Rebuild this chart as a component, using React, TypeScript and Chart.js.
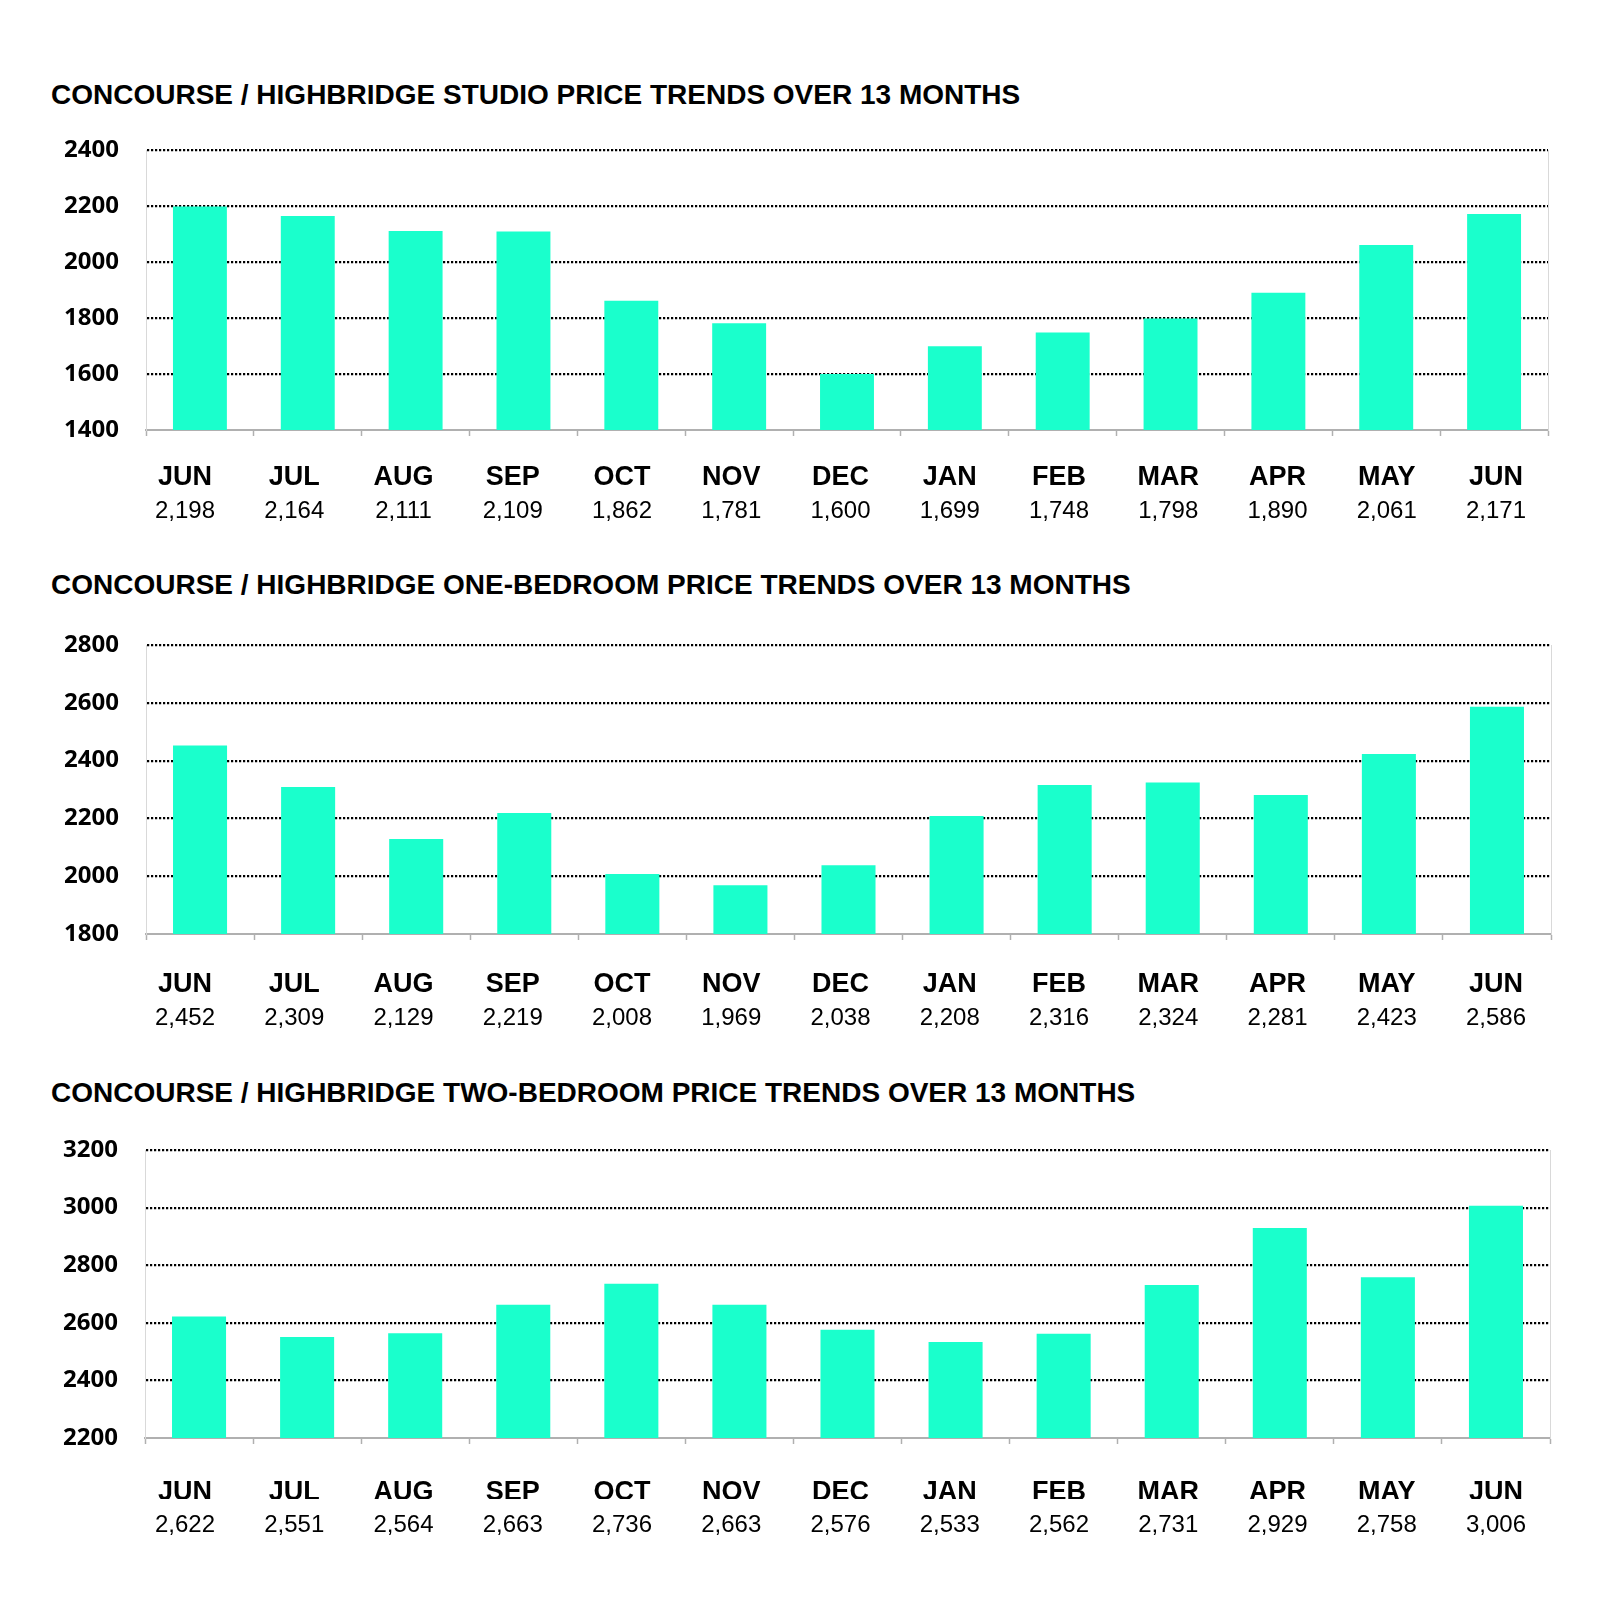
import React, { useEffect, useRef } from "react";
import { Chart, registerables } from "chart.js";

Chart.register(...registerables);

// ---------- data ----------
const MONTHS = ["JUN", "JUL", "AUG", "SEP", "OCT", "NOV", "DEC", "JAN", "FEB", "MAR", "APR", "MAY", "JUN"];

const STUDIO_VALUES = [2198, 2164, 2111, 2109, 1862, 1781, 1600, 1699, 1748, 1798, 1890, 2061, 2171];
const ONE_BED_VALUES = [2452, 2309, 2129, 2219, 2008, 1969, 2038, 2208, 2316, 2324, 2281, 2423, 2586];
const TWO_BED_VALUES = [2622, 2551, 2564, 2663, 2736, 2663, 2576, 2533, 2562, 2731, 2929, 2758, 3006];

const STUDIO_RANGE = [1400, 2400];
const ONE_BED_RANGE = [1800, 2800];
const TWO_BED_RANGE = [2200, 3200];
const Y_STEP = 200;

const TITLES = [
  "CONCOURSE / HIGHBRIDGE STUDIO PRICE TRENDS OVER 13 MONTHS",
  "CONCOURSE / HIGHBRIDGE ONE-BEDROOM PRICE TRENDS OVER 13 MONTHS",
  "CONCOURSE / HIGHBRIDGE TWO-BEDROOM PRICE TRENDS OVER 13 MONTHS",
];

// ---------- styles / layout ----------
const BAR_COLOR = "#1AFFCC";
const GRID_COLOR = "#000000";
const AXIS_COLOR = "#b0b0b0";
const FRAME_COLOR = "#d9d9d9";
const ARIAL = '"Liberation Sans", Arial, Helvetica, sans-serif';
const TOP_PAD = 20;
const TICK_LEN = 6;
const MONTH_AXIS_H = 55;
const VALUE_AXIS_H = 45;
// month/value label columns (pixel centre of first column, column step)
const LABEL_FIRST_PX = 185;
const LABEL_STEP_PX = 109.25;

type Panel = {
  title: string;
  values: number[];
  range: number[];
  titleCenter: number;
  plotTop: number;
  plotBottom: number;
  left: number;
  right: number;
  monthOffset: number;
  valueOffset: number;
};

const PANELS: Panel[] = [
  { title: TITLES[0], values: STUDIO_VALUES, range: STUDIO_RANGE, titleCenter: 95, plotTop: 150, plotBottom: 430, left: 146, right: 1548, monthOffset: 48, valueOffset: 81 },
  { title: TITLES[1], values: ONE_BED_VALUES, range: ONE_BED_RANGE, titleCenter: 585, plotTop: 645, plotBottom: 934, left: 146, right: 1551, monthOffset: 51, valueOffset: 84 },
  { title: TITLES[2], values: TWO_BED_VALUES, range: TWO_BED_RANGE, titleCenter: 1093, plotTop: 1150, plotBottom: 1438, left: 145, right: 1550, monthOffset: 55, valueOffset: 87 },
];

const noPadH = (s: any) => {
  s.paddingLeft = 0;
  s.paddingRight = 0;
};

function BarPanel({ p }: { p: Panel }) {
  const ref = useRef<HTMLCanvasElement>(null);
  const height = TOP_PAD + (p.plotBottom - p.plotTop) + TICK_LEN + MONTH_AXIS_H + VALUE_AXIS_H;

  useEffect(() => {
    const canvas = ref.current;
    if (!canvas) return;
    const [yMin, yMax] = p.range;
    const valueLabels = p.values.map((v) => v.toLocaleString("en-US"));
    const labelMin = (p.left - LABEL_FIRST_PX) / LABEL_STEP_PX;
    const labelMax = (p.right - LABEL_FIRST_PX) / LABEL_STEP_PX;
    const monthPad = p.monthOffset - TICK_LEN - (27 * 1.2) / 2;
    const valuePad = p.valueOffset - TICK_LEN - MONTH_AXIS_H - (24 * 1.2) / 2;
    const columnTicks = (s: any) => {
      s.ticks = MONTHS.map((_, i) => ({ value: i }));
    };

    const chart = new Chart(canvas, {
      type: "bar",
      data: {
        labels: MONTHS,
        datasets: [
          {
            data: p.values,
            backgroundColor: BAR_COLOR,
            borderWidth: 0,
            categoryPercentage: 1,
            barPercentage: 0.5,
            xAxisID: "x",
            yAxisID: "y",
          },
        ],
      },
      options: {
        animation: false,
        responsive: false,
        maintainAspectRatio: false,
        layout: { padding: { top: TOP_PAD, right: 1600 - p.right, left: 0, bottom: 0 } },
        plugins: {
          legend: { display: false },
          tooltip: { enabled: false },
          title: { display: false },
        },
        scales: {
          x: {
            type: "category",
            position: "bottom",
            weight: 0,
            offset: true,
            grid: {
              display: true,
              offset: true,
              drawOnChartArea: false,
              drawTicks: true,
              tickLength: TICK_LEN,
              tickColor: AXIS_COLOR,
              tickWidth: 1.5,
            },
            border: { display: true, color: AXIS_COLOR, width: 2 },
            ticks: { display: false },
            afterFit: (s: any) => {
              s.height = TICK_LEN;
              noPadH(s);
            },
          },
          xm: {
            type: "linear",
            axis: "x",
            position: "bottom",
            weight: 1,
            min: labelMin,
            max: labelMax,
            offset: false,
            grid: { display: false, drawTicks: false },
            border: { display: false },
            afterBuildTicks: columnTicks,
            ticks: {
              color: "#000",
              font: { family: ARIAL, size: 27, weight: "bold" },
              padding: monthPad,
              maxRotation: 0,
              autoSkip: false,
              callback: (_v: any, i: number) => MONTHS[i],
            },
            afterFit: (s: any) => {
              s.height = MONTH_AXIS_H;
              noPadH(s);
            },
          },
          xv: {
            type: "linear",
            axis: "x",
            position: "bottom",
            weight: 2,
            min: labelMin,
            max: labelMax,
            offset: false,
            grid: { display: false, drawTicks: false },
            border: { display: false },
            afterBuildTicks: columnTicks,
            ticks: {
              color: "#000",
              font: { family: ARIAL, size: 24, weight: "normal" },
              padding: valuePad,
              maxRotation: 0,
              autoSkip: false,
              callback: (_v: any, i: number) => valueLabels[i],
            },
            afterFit: (s: any) => {
              s.height = VALUE_AXIS_H;
              noPadH(s);
            },
          },
          y: {
            type: "linear",
            position: "left",
            min: yMin,
            max: yMax,
            ticks: {
              stepSize: Y_STEP,
              padding: 27,
              color: "#000",
              font: { family: '"Open Sans", sans-serif', size: 24, weight: "bold" },
              callback: (v: any) => String(v),
            },
            grid: {
              drawTicks: false,
              lineWidth: 2.2,
              color: (ctx: any) => (ctx.tick && ctx.tick.value === yMin ? "rgba(0,0,0,0)" : GRID_COLOR),
            },
            border: { display: true, color: FRAME_COLOR, width: 1, dash: [2.2, 1.8] },
            afterFit: (s: any) => {
              s.width = p.left;
              s.paddingTop = 0;
              s.paddingBottom = 0;
            },
          },
          yR: {
            type: "linear",
            position: "right",
            display: true,
            min: yMin,
            max: yMax,
            ticks: { display: false },
            grid: { display: false, drawTicks: false },
            border: { display: true, color: FRAME_COLOR, width: 1 },
            afterFit: (s: any) => {
              s.width = 0;
              s.paddingTop = 0;
              s.paddingBottom = 0;
            },
          },
        },
      } as any,
    });
    return () => chart.destroy();
  }, []);

  return (
    <>
      <div
        style={{
          position: "absolute",
          left: 51,
          top: p.titleCenter - 14,
          fontFamily: ARIAL,
          fontWeight: "bold",
          fontSize: 28,
          lineHeight: "28px",
          color: "#000",
          whiteSpace: "nowrap",
        }}
      >
        {p.title}
      </div>
      <canvas
        ref={ref}
        width={1600}
        height={height}
        style={{ position: "absolute", left: 0, top: p.plotTop - TOP_PAD, width: 1600, height, display: "block" }}
      />
    </>
  );
}

export default function App() {
  return (
    <div style={{ position: "absolute", left: 0, top: 0, width: 1600, height: 1615, background: "#fff", overflow: "hidden" }}>
      {PANELS.map((p, i) => (
        <BarPanel key={i} p={p} />
      ))}
    </div>
  );
}
